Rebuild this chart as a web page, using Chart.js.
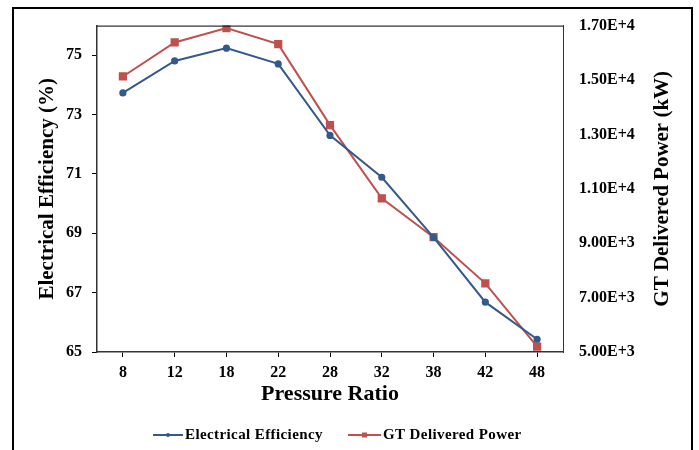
<!DOCTYPE html>
<html>
<head>
<meta charset="utf-8">
<script src="https://cdn.jsdelivr.net/npm/chart.js@4.4.1/dist/chart.umd.min.js"></script>
<style>
  body { margin: 0; background: #fff; }
  #wrap { width: 699px; height: 450px; }
</style>
</head>
<body>
<div id="wrap"><canvas id="chart" width="699" height="450"></canvas></div>
<script>
// data
const pressureRatios = ['8', '12', '18', '22', '28', '32', '38', '42', '48'];
const electricalEfficiency = [73.73, 74.81, 75.24, 74.71, 72.30, 70.89, 68.86, 66.68, 65.43];
const deliveredPower = [15130, 16380, 16910, 16320, 13340, 10650, 9220, 7525, 5195];
const efficiencyTicks = [65, 67, 69, 71, 73, 75];

const serif = '"Liberation Serif", "Times New Roman", serif';
const blue = '#34598a';
const red = '#c0504d';

// frame, top border of plot, right title and legend
const extras = {
    id: 'extras',
    afterDraw(chart) {
        const ctx = chart.ctx;
        const area = chart.chartArea;
        ctx.save();
        ctx.strokeStyle = '#000';
        ctx.lineWidth = 2;
        ctx.strokeRect(13, 8, 679, 446);

        ctx.lineWidth = 1;
        ctx.beginPath();
        ctx.moveTo(area.left, area.top + 0.5);
        ctx.lineTo(area.right, area.top + 0.5);
        ctx.stroke();

        // right axis title, reading bottom to top
        ctx.fillStyle = '#000';
        ctx.font = 'bold 21px ' + serif;
        ctx.textAlign = 'center';
        ctx.textBaseline = 'middle';
        ctx.translate(663, (area.top + area.bottom) / 2);
        ctx.rotate(-Math.PI / 2);
        ctx.fillText('GT Delivered Power (kW)', 0, 0);
        ctx.restore();

        // legend
        const items = [
            { x0: 153, x1: 183, tx: 185 },
            { x0: 348, x1: 381, tx: 383 }
        ];
        const y = 435;
        ctx.save();
        ctx.font = 'bold 15px ' + serif;
        ctx.textBaseline = 'middle';
        ctx.letterSpacing = '0.4px';
        chart.data.datasets.forEach((ds, i) => {
            const it = items[i];
            ctx.strokeStyle = ds.borderColor;
            ctx.lineWidth = 2;
            ctx.beginPath();
            ctx.moveTo(it.x0, y);
            ctx.lineTo(it.x1, y);
            ctx.stroke();
            ctx.fillStyle = ds.borderColor;
            const mx = (it.x0 + it.x1) / 2;
            if (ds.pointStyle === 'rect') {
                ctx.fillRect(mx - 2.5, y - 2.5, 5, 5);
            } else {
                ctx.beginPath();
                ctx.arc(mx, y, 2, 0, Math.PI * 2);
                ctx.fill();
            }
            ctx.fillStyle = '#000';
            ctx.fillText(ds.label, it.tx, y);
        });
        ctx.restore();
    }
};

const ctx = document.getElementById('chart').getContext('2d');
new Chart(ctx, {
    type: 'line',
    data: {
        labels: pressureRatios,
        datasets: [
            {
                label: 'Electrical Efficiency',
                data: electricalEfficiency,
                yAxisID: 'y',
                borderColor: blue,
                backgroundColor: blue,
                borderWidth: 2,
                pointStyle: 'circle',
                pointRadius: 2.6,
                tension: 0
            },
            {
                label: 'GT Delivered Power',
                data: deliveredPower,
                yAxisID: 'y1',
                borderColor: red,
                backgroundColor: red,
                borderWidth: 2,
                pointStyle: 'rect',
                pointRadius: 4.4,
                tension: 0
            }
        ]
    },
    options: {
        responsive: false,
        animation: false,
        layout: { padding: { top: 24, left: 0, right: 0, bottom: 0 } },
        plugins: {
            legend: { display: false },
            tooltip: { enabled: false }
        },
        scales: {
            x: {
                offset: true,
                afterFit: s => { s.height = 98; },
                grid: { drawOnChartArea: false, color: '#000', tickLength: 5 },
                border: { color: '#333', width: 1.5 },
                ticks: {
                    color: '#000',
                    padding: 6,
                    maxRotation: 0,
                    font: { family: serif, size: 16, weight: 'bold' }
                },
                title: {
                    display: true,
                    text: 'Pressure Ratio',
                    color: '#000',
                    padding: { top: 0, bottom: 42 },
                    font: { family: serif, size: 22, weight: 'bold' }
                }
            },
            y: {
                position: 'left',
                min: 65,
                max: 76,
                afterFit: s => { s.width = 97; },
                afterBuildTicks: s => { s.ticks = efficiencyTicks.map(v => ({ value: v })); },
                grid: { drawOnChartArea: false, color: '#000', tickLength: 5 },
                border: { color: '#333', width: 1.5 },
                ticks: {
                    color: '#000',
                    padding: 10,
                    font: { family: serif, size: 16, weight: 'bold' }
                },
                title: {
                    display: true,
                    text: 'Electrical Efficiency (%)',
                    color: '#000',
                    padding: { top: 35, bottom: 0 },
                    font: { family: serif, size: 21, weight: 'bold' }
                }
            },
            y1: {
                position: 'right',
                min: 5000,
                max: 17000,
                afterFit: s => { s.width = 136; },
                grid: { display: false, drawTicks: false },
                border: { display: true, color: '#333', width: 1 },
                ticks: {
                    stepSize: 2000,
                    color: '#000',
                    padding: 16,
                    font: { family: serif, size: 16, weight: 'bold' },
                    callback: v => Number(v).toExponential(2).toUpperCase()
                }
            }
        }
    },
    plugins: [extras]
});
</script>
</body>
</html>
